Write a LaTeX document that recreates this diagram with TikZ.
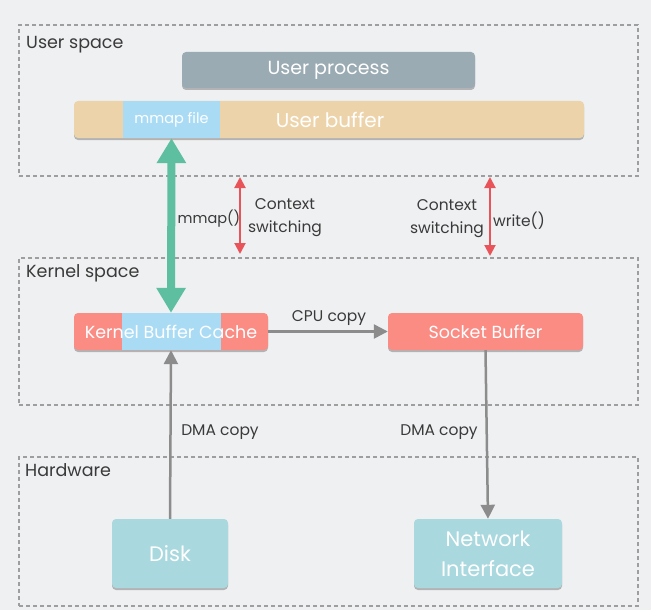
\documentclass[tikz,border=0pt]{standalone}
\usepackage{fontspec}
\setmainfont{Poppins}
\usetikzlibrary{arrows.meta,shadows}

\definecolor{bgcol}{HTML}{EFF0F2}
\definecolor{dashcol}{HTML}{9E9E9E}
\definecolor{textcol}{HTML}{3A3A3A}
\definecolor{proccol}{HTML}{9BABB3}
\definecolor{bufcol}{HTML}{EDD3A9}
\definecolor{mapcol}{HTML}{A9DBF5}
\definecolor{kerncol}{HTML}{FA8C84}
\definecolor{hwcol}{HTML}{A9D8DE}
\definecolor{tealcol}{HTML}{5DBF9F}
\definecolor{redcol}{HTML}{E8545A}
\definecolor{arrcol}{HTML}{8C8C8C}

\begin{document}
\begin{tikzpicture}[x=1pt, y=-1pt]%
        \tikzstyle{region}=[draw=dashcol, line width=2pt, dash pattern=on 4pt off 3pt, inner sep=0pt];%
        \tikzstyle{box}=[rounded corners=4pt, text=white, inner sep=0pt, align=center, drop shadow={shadow xshift=0pt, shadow yshift=-2pt, opacity=.25, fill=black}];%
        \tikzstyle{part}=[fill=mapcol, inner sep=0pt];%
        \tikzstyle{title}=[text=textcol, anchor=west, inner sep=0pt, font=\fontsize{17.5}{19}\selectfont];%
        \tikzstyle{lbl}=[text=textcol, inner sep=0pt, align=center, font=\fontsize{15.5}{23}\selectfont];%
        \tikzstyle{copy}=[draw=arrcol, line width=2.5pt, -{Triangle[width=14pt, length=14pt]}];%
        \tikzstyle{switch}=[draw=redcol, line width=2pt, {Triangle[width=11pt, length=11pt]}-{Triangle[width=11pt, length=11pt]}];%

        \fill[bgcol] (0, 0) rectangle (651, 610);
        \useasboundingbox (0, 0) rectangle (651, 610);

        % regions
        \node[region, minimum width=619, minimum height=151] (user) at (328.5, 100.5) {};
        \node[region, minimum width=619, minimum height=147] (kernel) at (328.5, 331.5) {};
        \node[region, minimum width=619, minimum height=149] (hw) at (328.5, 531.5) {};
        \node[title] (userl) at (26, 45) {User space};
        \node[title] (kernell) at (26, 273) {Kernel space};
        \node[title] (hwl) at (25, 470) {Hardware};

        % user space
        \node[box, fill=proccol, minimum width=293, minimum height=36, font=\fontsize{19}{21}\selectfont] (proc) at (328.5, 70) {User process};
        \node[box, fill=bufcol, minimum width=510, minimum height=37] (ubuf) at (329, 119.5) {};
        \node[part, minimum width=97, minimum height=37] (mmapf) at (171.5, 119.5) {};
        \node[text=white, font=\fontsize{14.5}{16}\selectfont] (mmapt) at (mmapf) {mmap file};
        \node[text=white, font=\fontsize{20}{22}\selectfont] (ubuft) at (330, 120) {User buffer};

        % kernel space
        \node[box, fill=kerncol, minimum width=194, minimum height=37] (kbc) at (171, 331.5) {};
        \node[part, minimum width=99, minimum height=37] (kbcmap) at (171.5, 331.5) {};
        \node[text=white, font=\fontsize{17.5}{19}\selectfont] (kbct) at (kbc) {Kernel Buffer Cache};
        \node[box, fill=kerncol, minimum width=195, minimum height=37, font=\fontsize{17.5}{19}\selectfont] (sock) at (485.5, 331.5) {Socket Buffer};

        % hardware
        \node[box, fill=hwcol, minimum width=116, minimum height=69, font=\fontsize{21}{23}\selectfont] (disk) at (170, 553.5) {Disk};
        \node[box, fill=hwcol, minimum width=148, minimum height=69, font=\fontsize{21}{30}\selectfont] (nic) at (488, 553.5) {Network\\Interface};

        % connectors
        \draw[draw=tealcol, line width=8pt, {Triangle[width=28pt, length=25pt]}-{Triangle[width=28pt, length=25pt]}] (mmapf.south) -- (kbc.north);
        \coordinate (cs1a) at (240, 177);
        \coordinate (cs1b) at (240, 254);
        \coordinate (cs2a) at (490, 177);
        \coordinate (cs2b) at (490, 256);
        \draw[switch] (cs1a) -- (cs1b);
        \draw[switch] (cs2a) -- (cs2b);
        \draw[copy] (kbc.east) -- (sock.west);
        \draw[copy] (disk.north) -- (kbc.south);
        \draw[copy] (sock.south) -- (nic.north);

        % labels
        \node[lbl, font=\fontsize{14.5}{23}\selectfont] (mmapl) at (209, 219) {mmap()};
        \node[lbl] (cs1l) at (285, 218) {Context\\switching};
        \node[lbl] (cs2l) at (447, 219) {Context\\switching};
        \node[lbl] (writel) at (519, 221) {write()};
        \node[lbl] (cpul) at (329, 318) {CPU copy};
        \node[lbl] (dma1l) at (220, 432) {DMA copy};
        \node[lbl] (dma2l) at (439, 432) {DMA copy};
    \end{tikzpicture}
\end{document}
